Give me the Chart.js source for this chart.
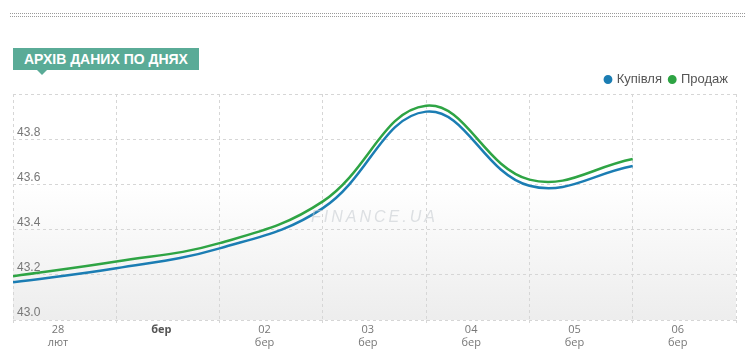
<!DOCTYPE html>
<html>
<head>
<meta charset="utf-8">
<script src="https://cdn.jsdelivr.net/npm/chart.js@4.4.1/dist/chart.umd.min.js"></script>
<style>
  html, body { margin: 0; padding: 0; background: #fff; }
  #wrap { position: relative; width: 745px; height: 362px; overflow: hidden; }
  #chart { position: absolute; left: 0; top: 0; }
  .dots { position: absolute; left: 10px; right: 0; height: 0; border-top: 1px dotted #9a9a9a; }
  #badge { position: absolute; left: 13px; top: 48px; height: 22px; padding: 0 11px 0 11px;
    background: #5aab97; color: #fff; font: bold 14px "Liberation Sans", Arial, sans-serif;
    line-height: 22px; letter-spacing: 0; }
  #badge:after { content: ""; position: absolute; left: 24px; top: 22px; border-left: 5px solid transparent;
    border-right: 5px solid transparent; border-top: 5px solid #5aab97; }
</style>
</head>
<body>
<div id="wrap">
  <div class="dots" style="top:13px"></div>
  <div class="dots" style="top:16px"></div>
  <canvas id="chart" width="745" height="362"></canvas>
  <div id="badge">АРХІВ ДАНИХ ПО ДНЯХ</div>
</div>
<script>
// Day index: 0 = 28 лют, 1 = 01 бер, ...
const dayPositions = [0, 1, 2, 3, 4, 5, 6];
const buyValues  = [43.167, 43.229, 43.317, 43.495, 43.922, 43.594, 43.681];
const sellValues = [43.194, 43.259, 43.340, 43.525, 43.948, 43.621, 43.712];
const dayLabels   = ["28", "бер", "02", "03", "04", "05", "06"];
const monthLabels = ["лют", "", "бер", "бер", "бер", "бер", "бер"];
const yTicks = [43.0, 43.2, 43.4, 43.6, 43.8, 44.0];
const seriesNames = ["Купівля", "Продаж"];

const BLUE = "#1b7db3", GREEN = "#2ea444";

const bgPlugin = {
  id: "bg",
  beforeDraw(chart) {
    const {ctx, chartArea: a} = chart;
    const g = ctx.createLinearGradient(0, a.top, 0, a.bottom);
    g.addColorStop(0, "#ffffff");
    g.addColorStop(0.4, "#ffffff");
    g.addColorStop(1, "#ededed");
    ctx.save();
    ctx.fillStyle = g;
    ctx.fillRect(a.left, a.top, a.right - a.left, a.bottom - a.top);
    ctx.restore();
  },
  afterDatasetsDraw(chart) {
    const {ctx} = chart;
    const xs = chart.scales.x, ys = chart.scales.y;
    ctx.save();
    ctx.font = "italic 16px 'Liberation Sans', Arial, sans-serif";
    ctx.letterSpacing = "3px";
    ctx.fillStyle = "rgba(195,200,205,0.55)";
    ctx.textAlign = "center";
    ctx.textBaseline = "middle";
    ctx.fillText("FINANCE.UA", xs.getPixelForValue(3.5), ys.getPixelForValue(43.455));
    ctx.restore();
  }
};

const legendHeight = {
  id: "legendHeight",
  beforeInit(chart) {
    const fit = chart.legend.fit;
    chart.legend.fit = function () { fit.call(this); this.height = 29; };
  }
};

new Chart(document.getElementById("chart"), {
  type: "line",
  data: {
    datasets: [
      { label: seriesNames[0], data: dayPositions.map((d, i) => ({x: d, y: buyValues[i]})),
        borderColor: BLUE, backgroundColor: BLUE, borderWidth: 2.5, pointRadius: 0,
        tension: 0.4, fill: false },
      { label: seriesNames[1], data: dayPositions.map((d, i) => ({x: d, y: sellValues[i]})),
        borderColor: GREEN, backgroundColor: GREEN, borderWidth: 2.5, pointRadius: 0,
        tension: 0.4, fill: false }
    ]
  },
  options: {
    responsive: false,
    animation: false,
    events: [],
    layout: { padding: { left: 13, right: 9, top: 65, bottom: 0 } },
    plugins: {
      tooltip: { enabled: false },
      legend: {
        position: "top", align: "end",
        labels: {
          usePointStyle: true, pointStyle: "circle", boxWidth: 4.5, boxHeight: 4.5, padding: 8,
          color: "#555", font: { family: "'Liberation Sans', Arial, sans-serif", size: 13 }
        }
      }
    },
    scales: {
      x: {
        type: "linear", min: 0, max: 7,
        afterBuildTicks(s) { s.ticks = [0,1,2,3,4,5,6,7].map(v => ({value: v})); },
        afterFit(s) { s.height = 42; },
        border: { display: false, dash: [3, 3] },
        grid: { color: "#d6d6d6", tickLength: 6, tickColor: "#d6d6d6",
                tickBorderDash: [3, 3], lineWidth: 1 },
        ticks: {
          maxRotation: 0, autoSkip: false, padding: -3, labelOffset: 45,
          color: (c) => c.index === 1 ? "#555" : "#777",
          font: (c) => ({ family: "'Open Sans', sans-serif", size: 11, weight: c.index === 1 ? "bold" : "normal", lineHeight: 1.2 }),
          callback(v, i) {
            if (i >= dayLabels.length) return "";
            return monthLabels[i] ? [dayLabels[i], monthLabels[i]] : dayLabels[i];
          }
        }
      },
      y: {
        min: 43.0, max: 44.0,
        afterBuildTicks(s) { s.ticks = yTicks.map(v => ({value: v})); },
        afterFit(s) { s.width = 0; },
        border: { display: false, dash: [3, 3] },
        grid: { color: "#d6d6d6", drawTicks: false, lineWidth: 1 },
        ticks: {
          mirror: true, padding: 4, labelOffset: -7,
          color: "#777", font: { family: "'Liberation Sans', Arial, sans-serif", size: 12 },
          callback(v) { return v >= 43.95 ? "" : v.toFixed(1); }
        }
      }
    }
  },
  plugins: [bgPlugin, legendHeight]
});
</script>
</body>
</html>
